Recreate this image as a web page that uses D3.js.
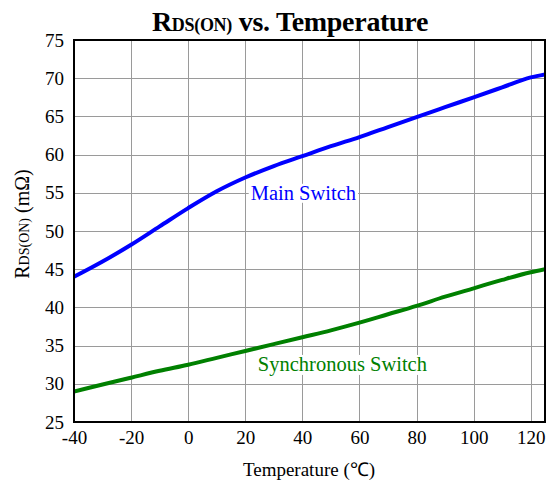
<!DOCTYPE html>
<html><head><meta charset="utf-8">
<script src="https://cdn.jsdelivr.net/npm/d3@7"></script>
<style>body{margin:0;background:#fff}svg{display:block}</style>
</head><body><svg id="c" width="547" height="486"></svg>
<script>
const temps = [-40, -30, -20, -10, 0, 10, 20, 30, 40, 50, 60, 70, 80, 90, 100, 110, 120, 125];
const mainSwitch = [44.0, 46.0, 48.2, 50.6, 53.0, 55.2, 57.0, 58.5, 59.8, 61.1, 62.3, 63.6, 64.9, 66.2, 67.5, 68.8, 70.1, 70.5];
const syncSwitch = [29.0, 29.9, 30.8, 31.7, 32.5, 33.4, 34.3, 35.2, 36.1, 37.0, 38.0, 39.1, 40.2, 41.4, 42.5, 43.6, 44.6, 45.0];
const xTicks = [-40, -20, 0, 20, 40, 60, 80, 100, 120];
const yTicks = [25, 30, 35, 40, 45, 50, 55, 60, 65, 70, 75];
const seriesNames = ["Main Switch", "Synchronous Switch"];
const seriesColors = ["#0000ff", "#008000"];

const svg = d3.select("#c");
const font = "'Liberation Serif','Times New Roman',serif";
const L = 74, R = 545, T = 40, B = 422;
const x = d3.scaleLinear().domain([-40, 125]).range([L, R]);
const y = d3.scaleLinear().domain([25, 75]).range([B, T]);

// grid
const g = svg.append("g");
g.selectAll(".vg").data(xTicks).enter().append("line")
  .attr("x1", d => Math.round(x(d)) + 0.5).attr("x2", d => Math.round(x(d)) + 0.5)
  .attr("y1", T).attr("y2", B).attr("stroke", "#9a9a9a").attr("stroke-width", 1);
g.selectAll(".hg").data(yTicks).enter().append("line")
  .attr("y1", d => Math.round(y(d)) + 0.5).attr("y2", d => Math.round(y(d)) + 0.5)
  .attr("x1", L).attr("x2", R).attr("stroke", "#9a9a9a").attr("stroke-width", 1);

// axes (labels only, using d3 axis)
const xAxis = svg.append("g").attr("transform", `translate(0,${B})`)
  .call(d3.axisBottom(x).tickValues(xTicks).tickSize(0).tickPadding(9).tickFormat(d => String(d)));
xAxis.select(".domain").remove();
xAxis.selectAll("text").attr("font-family", font).attr("font-size", 19).attr("fill", "#000");

const yAxis = svg.append("g").attr("transform", `translate(${L},0)`)
  .call(d3.axisLeft(y).tickValues(yTicks).tickSize(0).tickPadding(10).tickFormat(d => String(d)));
yAxis.select(".domain").remove();
yAxis.selectAll("text").attr("font-family", font).attr("font-size", 19).attr("fill", "#000");

// lines
const line = d3.line().x(d => x(d[0])).y(d => y(d[1])).curve(d3.curveMonotoneX);
const seriesData = [mainSwitch, syncSwitch];
svg.append("clipPath").attr("id", "pc").append("rect")
  .attr("x", L).attr("y", T).attr("width", R - L).attr("height", B - T);
seriesData.forEach((vals, i) => {
  svg.append("path").datum(temps.map((t, j) => [t, vals[j]]))
    .attr("d", line).attr("fill", "none").attr("stroke", seriesColors[i])
    .attr("stroke-width", 4).attr("clip-path", "url(#pc)");
});

// series labels
const labelPos = [[20.5, 55], [23, 32.6]];
seriesNames.forEach((n, i) => {
  const t = svg.append("text").attr("x", x(labelPos[i][0]) + 4).attr("y", y(labelPos[i][1]) + 7)
    .attr("font-family", font).attr("font-size", 20.5).attr("fill", seriesColors[i]).text(n);
  const bb = t.node().getBBox();
  svg.insert("rect", () => t.node()).attr("x", bb.x - 2).attr("y", bb.y + 2).attr("width", bb.width + 4)
    .attr("height", bb.height - 3).attr("fill", "#fff");
});

// frame
svg.append("rect").attr("x", L).attr("y", T).attr("width", R - L).attr("height", B - T)
  .attr("fill", "none").attr("stroke", "#000").attr("stroke-width", 2);

// title
const title = svg.append("text").attr("x", 290).attr("y", 31).attr("text-anchor", "middle")
  .attr("font-family", font).attr("font-weight", "bold").attr("font-size", 28).attr("fill", "#000")
  .attr("letter-spacing", -0.3);
title.append("tspan").text("R");
title.append("tspan").attr("font-size", 18).text("DS(ON)");
title.append("tspan").text(" vs. Temperature");

// x title
svg.append("text").attr("x", 309).attr("y", 476).attr("text-anchor", "middle")
  .attr("font-family", font).attr("font-size", 19).attr("fill", "#000").text("Temperature (℃)");

// y title
const yt = svg.append("text").attr("transform", "translate(29,224) rotate(-90)").attr("text-anchor", "middle")
  .attr("font-family", font).attr("font-size", 20).attr("fill", "#000");
yt.append("tspan").text("R");
yt.append("tspan").attr("font-size", 14).text("DS(ON)");
yt.append("tspan").text(" (mΩ)");
</script></body></html>
